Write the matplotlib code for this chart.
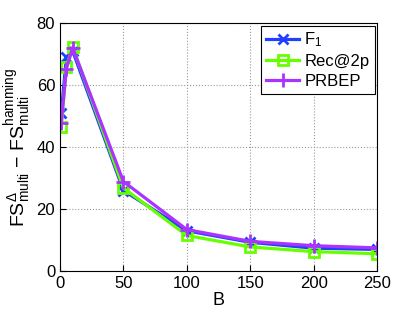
import matplotlib
matplotlib.use("Agg")
import matplotlib.pyplot as plt

plt.rcParams['font.family'] = ['Liberation Sans', 'DejaVu Sans']
plt.rcParams['mathtext.fontset'] = 'custom'
plt.rcParams['mathtext.rm'] = 'Liberation Sans'
plt.rcParams['mathtext.it'] = 'Liberation Sans:italic'
plt.rcParams['mathtext.bf'] = 'Liberation Sans:bold'

B = [1, 5, 10, 50, 100, 150, 200, 250]
f1 = [51, 69, 71, 26, 13, 9.3, 7.4, 7.0]
rec2p = [46.5, 65.8, 72.3, 26.8, 11.5, 7.8, 6.3, 5.6]
prbep = [47.8, 65.3, 72.0, 28.9, 13.4, 9.6, 8.2, 7.5]

fig = plt.figure(figsize=(4.15, 3.12), dpi=100)
ax = fig.add_axes([0.1446, 0.131, 0.9085 - 0.1446, 0.926 - 0.131])

ax.plot(B, f1, color='#2040ff', lw=2.3, marker='x', ms=7, mew=2, label='F$_1$')
ax.plot(B, rec2p, color='#66ff00', lw=2.3, marker='s', ms=7, mew=2,
        mfc='none', label='Rec@2p')
ax.plot(B, prbep, color='#aa33ff', lw=2.3, marker='+', ms=10, mew=2, label='PRBEP')

ax.set_xlim(0, 250)
ax.set_ylim(0, 80)
ax.set_xticks([0, 50, 100, 150, 200, 250])
ax.set_yticks([0, 20, 40, 60, 80])
ax.tick_params(labelsize=12, direction='in', length=4)
ax.grid(True, linestyle=':', color='#999999', lw=0.8)
ax.set_xlabel('B', fontsize=13, labelpad=1)
ax.set_ylabel(r'FS$^{\Delta}_{\rm multi}$ $-$ FS$^{\rm hamming}_{\rm multi}$', fontsize=14, labelpad=2)

leg = ax.legend(loc='upper right', fontsize=12, fancybox=False, framealpha=1,
                edgecolor='black', borderaxespad=0.15, handlelength=2.0,
                handletextpad=0.3, borderpad=0.3, labelspacing=0.3)
leg.get_frame().set_linewidth(0.8)

fig.savefig('out.png', dpi=100)
